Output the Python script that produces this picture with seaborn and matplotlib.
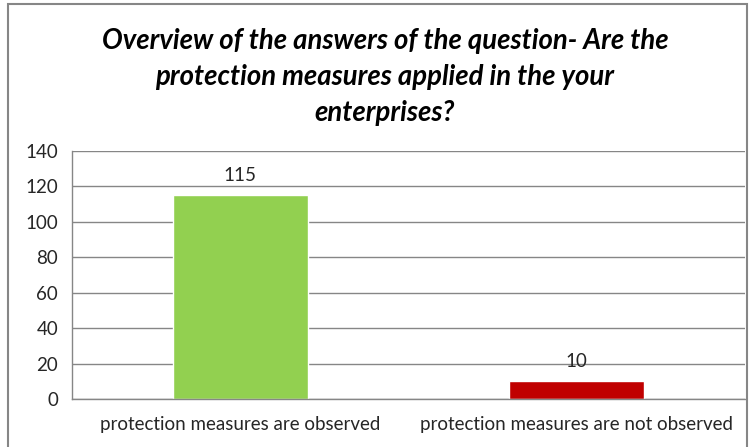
import matplotlib
matplotlib.use("Agg")
import matplotlib.pyplot as plt
import seaborn as sns
import pandas as pd
from matplotlib.patches import Rectangle

categories = ["protection measures are observed", "protection measures are not observed"]
values = [115, 10]
colors = ["#92D050", "#C00000"]
yticks = [0, 20, 40, 60, 80, 100, 120, 140]
title = "Overview of the answers of the question- Are the\nprotection measures applied in the your\nenterprises?"

sns.set_theme(style="white")
plt.rcParams['font.family'] = ['Lato', 'DejaVu Sans']

W, H = 751, 447
fig = plt.figure(figsize=(W / 100, H / 100), dpi=100)
fig.patch.set_facecolor("white")

# outer chart border
fig.patches.append(Rectangle((8 / W, -0.05), (747 - 8) / W, 1.05 - 4 / H,
                             transform=fig.transFigure, fill=False,
                             edgecolor="#868686", linewidth=1.5, clip_on=False))

left, right, top, bottom = 72, 745, 151, 399
ax = fig.add_axes([left / W, 1 - bottom / H, (right - left) / W, (bottom - top) / H])

df = pd.DataFrame({"cat": categories, "val": values})
sns.barplot(data=df, x="cat", y="val", hue="cat", palette=colors, width=0.4,
            legend=False, ax=ax, saturation=1)

ax.set_ylim(0, 140)
ax.set_yticks(yticks)
ax.set_xlim(-0.5, 1.5)
ax.yaxis.grid(True, color="#868686", linewidth=1)
ax.set_axisbelow(True)
for s in ["top", "right"]:
    ax.spines[s].set_visible(False)
for s in ["left", "bottom"]:
    ax.spines[s].set_color("#868686")
    ax.spines[s].set_linewidth(1)
ax.set_xlabel("")
ax.set_ylabel("")
ax.tick_params(axis="y", labelsize=13.5, length=0, pad=10)
ax.tick_params(axis="x", labelsize=13.5, length=0, pad=12)
for lbl in ax.get_yticklabels() + ax.get_xticklabels():
    lbl.set_color("#262626")

for i, v in enumerate(values):
    ax.annotate(str(v), (i, v), xytext=(0, 8), textcoords="offset points",
                ha="center", va="bottom", fontsize=13.5, color="#262626")

fig.text(385 / W, 1 - 77 / H, title, ha="center", va="center", fontsize=19.8,
         fontweight="bold", fontstyle="italic", color="black", linespacing=1.5)

fig.savefig("out.png", dpi=100)
